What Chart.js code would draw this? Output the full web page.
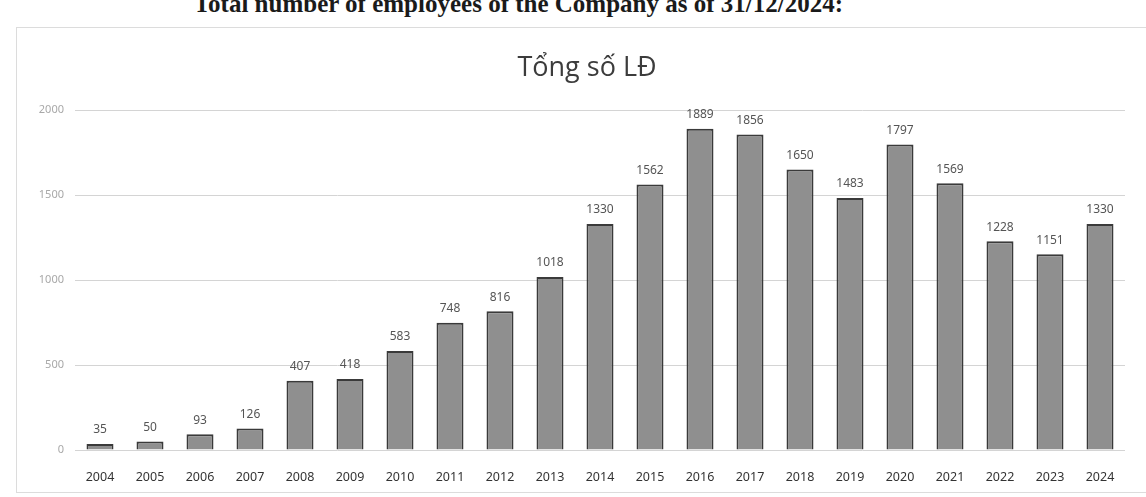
<!DOCTYPE html>
<html>
<head>
<meta charset="utf-8">
<script src="https://cdn.jsdelivr.net/npm/chart.js@4.4.1/dist/chart.umd.min.js"></script>
<style>
  html, body { margin: 0; padding: 0; background: #ffffff; }
  body { width: 1146px; height: 497px; position: relative; overflow: hidden; }
  #heading {
    position: absolute; right: 303px; top: -10px; white-space: nowrap;
    font-family: "Liberation Serif", "DejaVu Serif", serif; font-weight: bold;
    font-size: 25px; color: #1a1a1a;
  }
  #frame {
    position: absolute; left: 16px; top: 27px; width: 1140px; height: 464px;
    border: 1px solid #dcdcdc;
  }
  #c { position: absolute; left: 0; top: 0; }
</style>
</head>
<body>
<div id="heading">Total number of employees of the Company as of 31/12/2024:</div>
<div id="frame"></div>
<canvas id="c" width="1146" height="497"></canvas>
<script>
const CHART_TITLE = "Tổng số LĐ";
const YEARS = ["2004","2005","2006","2007","2008","2009","2010","2011","2012","2013","2014",
               "2015","2016","2017","2018","2019","2020","2021","2022","2023","2024"];
const EMPLOYEES = [35, 50, 93, 126, 407, 418, 583, 748, 816, 1018, 1330,
                   1562, 1889, 1856, 1650, 1483, 1797, 1569, 1228, 1151, 1330];
const Y_MIN = 0, Y_MAX = 2000, Y_STEP = 500;

const FONT = '"Noto Sans", "Open Sans", sans-serif';

const titleDraw = {
  id: 'titleDraw',
  afterDraw(chart) {
    const ctx = chart.ctx;
    const a = chart.chartArea;
    ctx.save();
    ctx.font = '27px "Open Sans", "Noto Sans", sans-serif';
    ctx.fillStyle = '#3c3c3c';
    ctx.textAlign = 'center';
    ctx.textBaseline = 'alphabetic';
    ctx.fillText(CHART_TITLE, (a.left + a.right) / 2 - 13, 76);
    ctx.restore();
  }
};

const valueLabels = {
  id: 'valueLabels',
  afterDatasetsDraw(chart) {
    const ctx = chart.ctx;
    const meta = chart.getDatasetMeta(0);
    ctx.save();
    ctx.font = '12px ' + FONT;
    ctx.fillStyle = '#555555';
    ctx.textAlign = 'center';
    ctx.textBaseline = 'bottom';
    meta.data.forEach((el, i) => {
      ctx.fillText(String(chart.data.datasets[0].data[i]), el.x, el.y - 8);
    });
    ctx.restore();
  }
};

new Chart(document.getElementById('c'), {
  type: 'bar',
  data: {
    labels: YEARS,
    datasets: [{
      data: EMPLOYEES,
      backgroundColor: '#8f8f8f',
      borderColor: '#3a3a3a',
      borderWidth: 2,
      categoryPercentage: 0.6,
      barPercentage: 0.9
    }]
  },
  options: {
    responsive: false,
    animation: false,
    layout: { padding: { left: 0, right: 21, top: 110, bottom: 0 } },
    plugins: {
      legend: { display: false },
      tooltip: { enabled: false },
      title: { display: false }
    },
    scales: {
      x: {
        grid: { display: false, drawTicks: false },
        border: { display: false },
        ticks: {
          color: '#333333',
          padding: 20,
          font: { family: FONT, size: 12.5 },
          maxRotation: 0, autoSkip: false
        },
        afterFit(scale) { scale.height = 47; }
      },
      y: {
        min: Y_MIN, max: Y_MAX,
        grid: { color: '#d4d4d4', lineWidth: 1, drawTicks: false },
        border: { display: false },
        ticks: {
          stepSize: Y_STEP,
          color: '#a8a8a8',
          padding: 11,
          font: { family: FONT, size: 11 },
          callback: (v) => String(v)
        },
        afterFit(scale) { scale.width = 75; }
      }
    }
  },
  plugins: [valueLabels, titleDraw]
});
</script>
</body>
</html>
